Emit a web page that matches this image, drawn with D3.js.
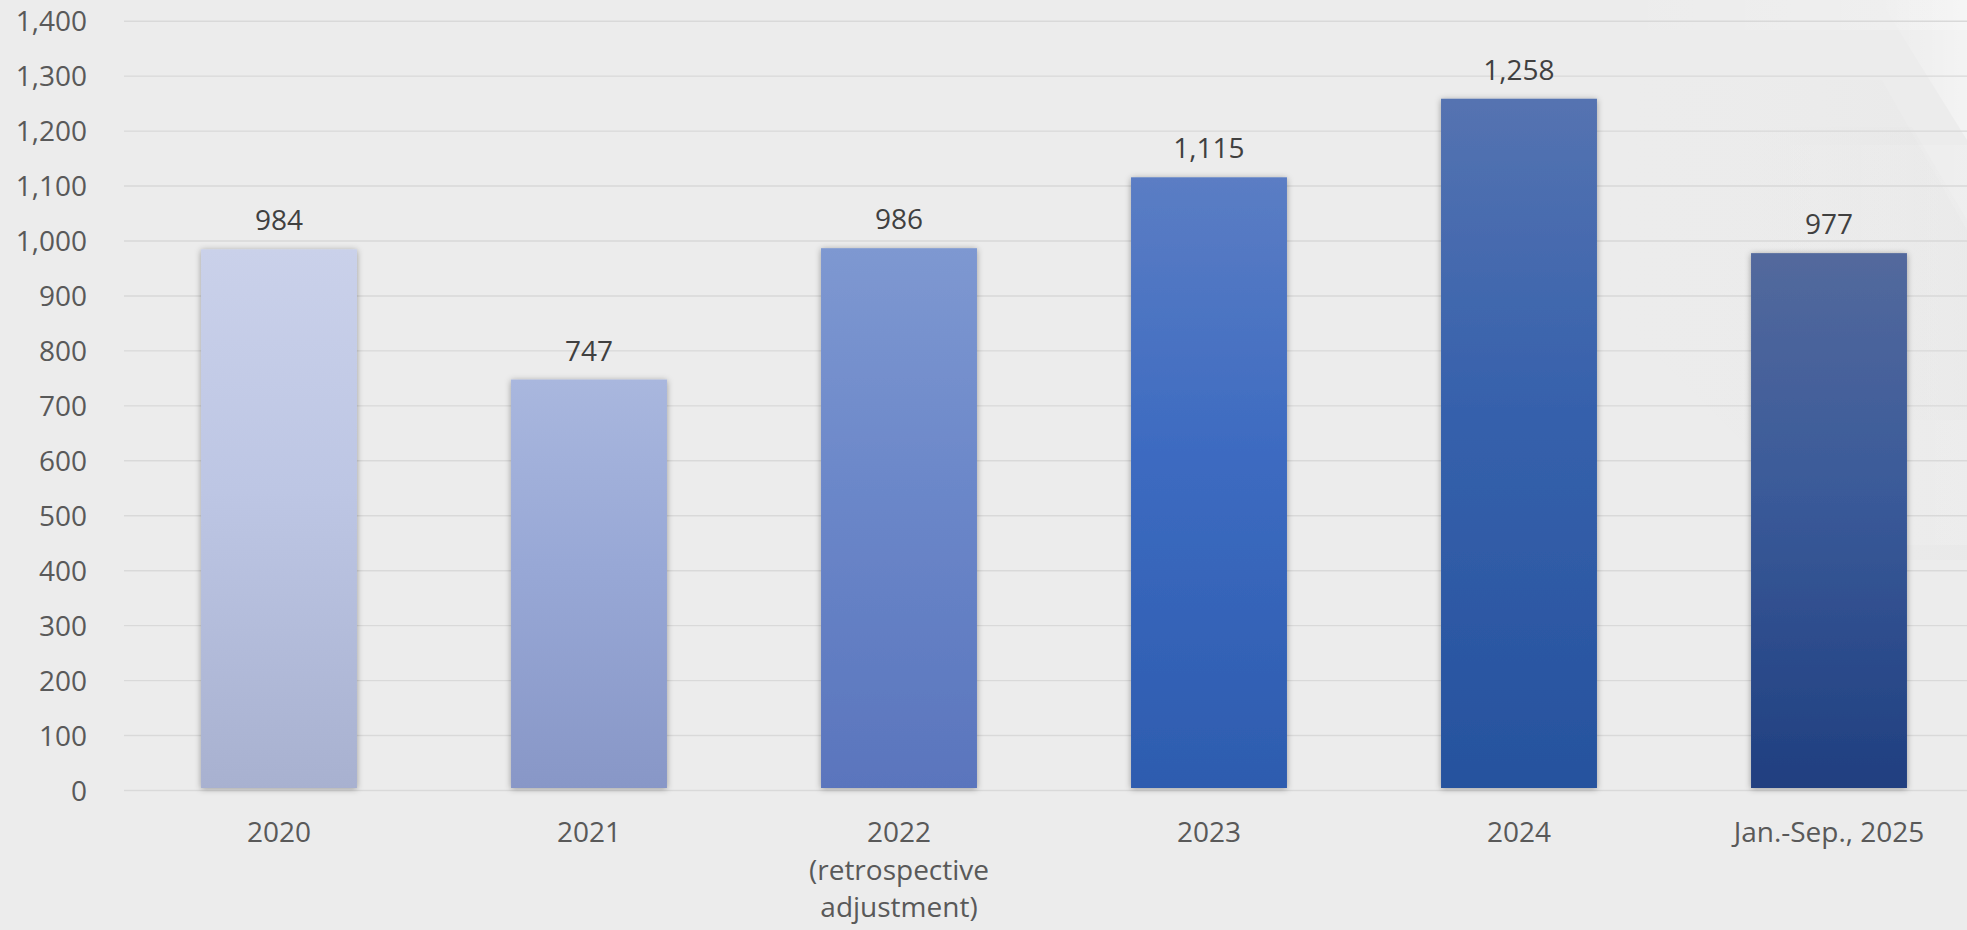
<!DOCTYPE html>
<html>
<head>
<meta charset="utf-8">
<script src="https://cdn.jsdelivr.net/npm/d3@7"></script>
<style>
  html, body { margin: 0; padding: 0; background: #ececec; }
  svg { display: block; }
  .axis text { font-family: "Open Sans", sans-serif; font-size: 28px; fill: #595959; }
  .label { font-family: "Open Sans", sans-serif; font-size: 28px; fill: #404040; }
</style>
</head>
<body>
<div id="chart"></div>
<script>
// data
var categories = ["2020", "2021", "2022\n(retrospective\nadjustment)", "2023", "2024", "Jan.-Sep., 2025"];
var values = [984, 747, 986, 1115, 1258, 977];
var yTicks = [0, 100, 200, 300, 400, 500, 600, 700, 800, 900, 1000, 1100, 1200, 1300, 1400];

// bar colours, top -> bottom of the gradient
var topColors = ["#cad1ea", "#a9b7de", "#7e98d1", "#5b7dc4", "#5573b1", "#53699d"];
var midColors = ["#bdc6e4", "#98a8d6", "#6b87c9", "#3d6bc1", "#3661ac", "#3a5a99"];
var botColors = ["#a8b1d0", "#8897c7", "#5a75bd", "#2d5caf", "#26529e", "#203f80"];

//------------------------1. PREPARATION-------------------------//
const width = 1967;
const height = 930;
const left = 124;
const step = 310;
const y0 = 790;
const yTop = 20.7;

const svg = d3.select("#chart").append("svg")
    .attr("width", width)
    .attr("height", height);

const defs = svg.append("defs");

defs.append("filter")
    .attr("id", "shadow")
    .attr("x", "-20%").attr("y", "-5%")
    .attr("width", "140%").attr("height", "110%")
    .append("feDropShadow")
    .attr("dx", 0).attr("dy", 1)
    .attr("stdDeviation", 3)
    .attr("flood-color", "#000")
    .attr("flood-opacity", 0.35);

categories.forEach(function(c, i){
    var g = defs.append("linearGradient")
        .attr("id", "grad" + i)
        .attr("x1", 0).attr("y1", 0).attr("x2", 0).attr("y2", 1);
    g.append("stop").attr("offset", "0%").attr("stop-color", topColors[i]);
    g.append("stop").attr("offset", "45%").attr("stop-color", midColors[i]);
    g.append("stop").attr("offset", "100%").attr("stop-color", botColors[i]);
});

var bgGrad = defs.append("linearGradient")
    .attr("id", "hexGrad")
    .attr("x1", 0).attr("y1", 0).attr("x2", 1).attr("y2", 0);
bgGrad.append("stop").attr("offset", "0%").attr("stop-color", "#ececec").attr("stop-opacity", 0);
bgGrad.append("stop").attr("offset", "100%").attr("stop-color", "#dcdcdc").attr("stop-opacity", 0.5);

var bgGrad2 = defs.append("linearGradient")
    .attr("id", "hexGrad2")
    .attr("x1", 0).attr("y1", 0).attr("x2", 1).attr("y2", 0);
bgGrad2.append("stop").attr("offset", "0%").attr("stop-color", "#ffffff").attr("stop-opacity", 0);
bgGrad2.append("stop").attr("offset", "100%").attr("stop-color", "#ffffff").attr("stop-opacity", 0.4);

//-------------------------BACKGROUND----------------------------//
svg.append("rect").attr("width", width).attr("height", height).attr("fill", "#ececec");

// faint hexagon shapes on the right
svg.append("polygon")
    .attr("points", "1880,0 1967,0 1967,140")
    .attr("fill", "url(#hexGrad2)");
svg.append("polygon")
    .attr("points", "1640,80 1882,80 1967,230 1967,560 1860,560 1600,300")
    .attr("fill", "url(#hexGrad)").attr("opacity", 0.35);
svg.append("polygon")
    .attr("points", "1745,127 1912,127 1967,220 1967,420 1690,420")
    .attr("fill", "url(#hexGrad)").attr("opacity", 0.35);
svg.append("polygon")
    .attr("points", "1600,0 1967,0 1967,30 1600,30")
    .attr("fill", "url(#hexGrad2)").attr("opacity", 0.5);
svg.append("polygon")
    .attr("points", "1750,145 1967,145 1967,545 1750,545")
    .attr("fill", "url(#hexGrad2)").attr("opacity", 0.35);

//----------------------------SCALES-----------------------------//
var xScale = d3.scaleBand()
    .domain(categories)
    .range([left, left + step * categories.length])
    .paddingInner(0.497)
    .paddingOuter(0.2485);

var yScale = d3.scaleLinear()
    .domain([0, 1400])
    .range([y0, yTop]);

//-----------------------------AXES------------------------------//
var yaxis = d3.axisLeft(yScale)
    .tickValues(yTicks)
    .tickFormat(d3.format(","))
    .tickSize(-(width - left))
    .tickPadding(37);

var gy = svg.append("g")
    .attr("class", "axis")
    .attr("transform", "translate(" + left + ",0)")
    .call(yaxis);
gy.select(".domain").remove();
gy.selectAll("line").attr("stroke", "#d9d9d9").attr("stroke-width", 1.4);
gy.selectAll("text").attr("dy", "0.36em");

var xaxis = d3.axisBottom(xScale).tickSize(0).tickFormat("");
var gx = svg.append("g")
    .attr("class", "axis")
    .attr("transform", "translate(0," + y0 + ")")
    .call(xaxis);
gx.select(".domain").remove();
gx.selectAll(".tick").each(function(d){
    var lines = d.split("\n");
    var t = d3.select(this).append("text")
        .attr("text-anchor", "middle")
        .attr("y", 52);
    lines.forEach(function(l, i){
        t.append("tspan").attr("x", 0).attr("dy", i === 0 ? 0 : 37.5).text(l);
    });
});

//-----------------------------BARS------------------------------//
svg.append("g")
    .selectAll("rect")
    .data(values)
    .join("rect")
    .attr("x", function(d, i) { return xScale(categories[i]); })
    .attr("y", function(d) { return yScale(d); })
    .attr("width", xScale.bandwidth())
    .attr("height", function(d) { return y0 - yScale(d) - 2; })
    .attr("fill", function(d, i) { return "url(#grad" + i + ")"; })
    .attr("filter", "url(#shadow)");

svg.append("g")
    .selectAll("text")
    .data(values)
    .join("text")
    .attr("class", "label")
    .attr("text-anchor", "middle")
    .attr("x", function(d, i) { return xScale(categories[i]) + xScale.bandwidth() / 2; })
    .attr("y", function(d) { return yScale(d) - 19; })
    .text(function(d) { return d3.format(",")(d); });
</script>
</body>
</html>
